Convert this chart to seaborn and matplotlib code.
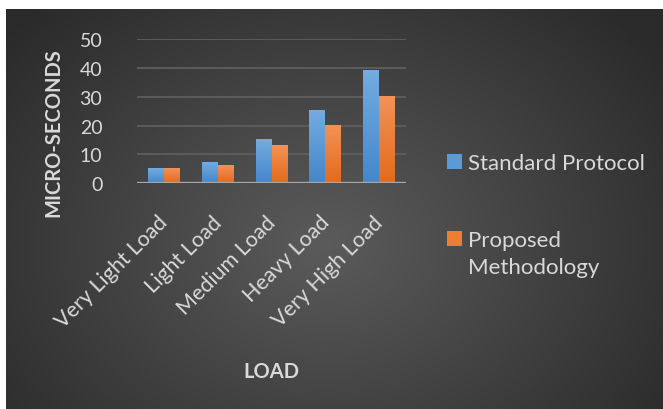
import numpy as np
import pandas as pd
import matplotlib
matplotlib.use("Agg")
import matplotlib.pyplot as plt
import matplotlib.colors as mcolors
import matplotlib.transforms as mtransforms
from matplotlib.patches import Patch, Rectangle
from matplotlib.legend_handler import HandlerPatch
import seaborn as sns

# ---- data -------------------------------------------------------------
categories = ["Very Light Load", "Light Load", "Medium Load", "Heavy Load", "Very High Load"]
standard_protocol = [5, 7, 15, 25, 39]
proposed_methodology = [5, 6, 13, 20, 30]
series_names = ["Standard Protocol", "Proposed\nMethodology"]
y_ticks = [0, 10, 20, 30, 40, 50]

df = pd.DataFrame({
    "Load": categories * 2,
    "Value": standard_protocol + proposed_methodology,
    "Series": [series_names[0]] * len(categories) + [series_names[1]] * len(categories),
})

# ---- style ------------------------------------------------------------
sns.set_theme(style="white")
plt.rcParams["font.family"] = ["Lato", "DejaVu Sans"]

text_color = "#d9d9d9"
bar_colors = {series_names[0]: ("#74abe0", "#4587ca"),
              series_names[1]: ("#f29258", "#e46a1b")}

W, H = 663, 410
fig = plt.figure(figsize=(W / 100, H / 100), dpi=100)
fig.patch.set_facecolor("white")

# dark radial-gradient panel behind the chart
bg = fig.add_axes([6 / W, 0, (W - 6) / W, (H - 10) / H], zorder=-10)
gy, gx = np.mgrid[0:400, 0:657]
cx, cy = 320, 235
r = np.sqrt(((gx - cx) / 420) ** 2 + ((gy - cy) / 330) ** 2)
r = np.clip(r, 0, 1)
c_in, c_out = np.array([0x5b, 0x5b, 0x5b]) / 255, np.array([0x2a, 0x2a, 0x2a]) / 255
img = c_in[None, None, :] * (1 - r[..., None]) + c_out[None, None, :] * r[..., None]
bg.imshow(img, aspect="auto", origin="upper", interpolation="bilinear")
bg.set_axis_off()

ax = fig.add_axes([137 / W, 1 - 184.3 / H, 269 / W, 144.3 / H])
ax.set_facecolor("none")

sns.barplot(data=df, x="Load", y="Value", hue="Series", order=categories,
            hue_order=series_names, palette={k: v[1] for k, v in bar_colors.items()},
            width=0.59, saturation=1, legend=False, ax=ax, zorder=3,
            linewidth=0, edgecolor="none")

# vertical gradient fill on every bar
for i, p in enumerate(list(ax.patches)):
    series = series_names[i // len(categories)]
    top, bot = (np.array(mcolors.to_rgb(c)) for c in bar_colors[series])
    x0, w, h = p.get_x(), p.get_width(), p.get_height()
    t = np.linspace(0, 1, 64)[:, None]
    grad = (bot[None, :] * (1 - t) + top[None, :] * t)[:, None, :]
    ax.imshow(grad, extent=[x0, x0 + w, 0, h], origin="lower", aspect="auto",
              zorder=4, interpolation="bilinear")

ax.set_xlim(-0.5, len(categories) - 0.5)
ax.set_ylim(0, 50)
ax.set_yticks(y_ticks)
ax.yaxis.grid(True, color="#5e5e5e", linewidth=1.3, zorder=0)
ax.xaxis.grid(False)
ax.axhline(0, color="#a6a6a6", linewidth=2.4, zorder=5)
for s in ax.spines.values():
    s.set_visible(False)

ax.tick_params(axis="y", length=0, pad=25, labelsize=14, labelcolor=text_color)
ax.tick_params(axis="x", length=0, pad=14, labelsize=15.5, labelcolor=text_color)
shift = mtransforms.ScaledTranslation(8 / 100, -9 / 100, fig.dpi_scale_trans)
for lbl in ax.get_xticklabels():
    lbl.set_rotation(45)
    lbl.set_ha("right")
    lbl.set_transform(lbl.get_transform() + shift)

ax.set_xlabel("LOAD", fontsize=14.5, fontweight="bold", color=text_color)
ax.set_ylabel("MICRO-SECONDS", fontsize=14.5, fontweight="bold", color=text_color)
ax.xaxis.set_label_coords(0.5, -1.23)
ax.yaxis.set_label_coords(-0.275, 0.355)


class RaisedSquare(HandlerPatch):
    """Square legend key aligned with the first line of a wrapped label."""

    def __init__(self, shift=0.0, **kw):
        super().__init__(**kw)
        self.shift = shift

    def create_artists(self, legend, orig_handle, xdescent, ydescent, width,
                       height, fontsize, trans):
        p = Rectangle((-xdescent, -ydescent + self.shift * fontsize), width, height,
                      facecolor=orig_handle.get_facecolor(), edgecolor="none",
                      transform=trans)
        return [p]


handles = [Patch(facecolor="#5b9bd5", edgecolor="none"),
           Patch(facecolor="#ed7d31", edgecolor="none")]
leg = fig.legend(handles, series_names, loc="upper left",
                 bbox_to_anchor=(427 / W, 1 - 134 / H), frameon=False,
                 fontsize=16, labelcolor=text_color, handlelength=0.68,
                 handleheight=0.68, handletextpad=0.25, labelspacing=2.55,
                 handler_map={handles[0]: RaisedSquare(0.0),
                              handles[1]: RaisedSquare(0.66)})
for t in leg.get_texts():
    t.set_linespacing(1.45)

fig.savefig("out.png", dpi=100)
